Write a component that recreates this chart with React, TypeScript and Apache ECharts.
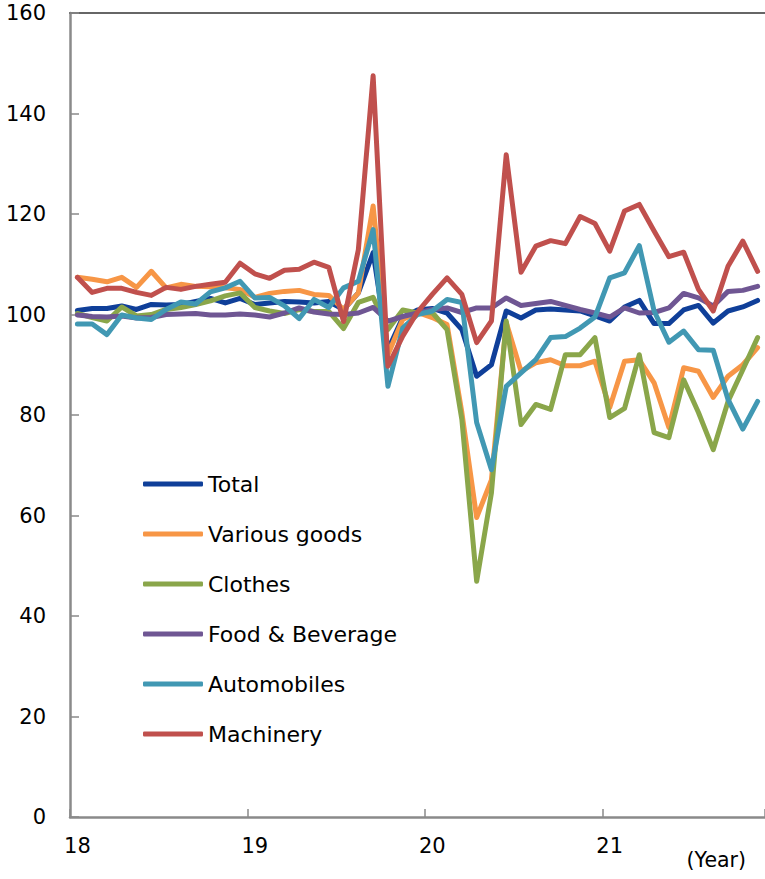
import React, { useEffect, useRef } from "react";
import * as echarts from "echarts";

const years = ["18", "19", "20", "21"];
const monthCount = 47; // Jan 2018 – Nov 2021

const seriesNames = ["Total", "Various goods", "Clothes", "Food & Beverage", "Automobiles", "Machinery"];
const seriesColors = ["#0f3f99", "#f79646", "#8aa64a", "#6f5693", "#4198b3", "#c0504d"];

const total = [100.8, 101.2, 101.2, 101.7, 101, 102, 101.9, 102, 102.6, 103.2, 102.3, 103.2,
  102, 102.3, 102.6, 102.5, 102.3, 102.6, 101, 104.3, 112.3, 93, 99.4, 100.9,
  101.2, 100.3, 97, 87.7, 90, 100.7, 99.3, 100.9, 101.1, 100.9, 100.7, 99.7,
  98.7, 101.5, 102.8, 98.2, 98.2, 100.9, 101.8, 98.3, 100.7, 101.5, 102.8];
const variousGoods = [107.4, 107, 106.5, 107.4, 105.4, 108.6, 105.3, 106, 105.6, 105.5, 105.3, 105,
  103.4, 104.2, 104.6, 104.8, 104, 103.8, 101, 104.3, 121.6, 92, 99, 100.4,
  99.4, 98, 80.5, 59.6, 67.1, 98.4, 88.7, 90.4, 91, 89.8, 89.8, 90.7,
  81.5, 90.7, 91, 86.4, 77.5, 89.4, 88.7, 83.5, 87.7, 90, 93.4];
const clothes = [100.2, 99.4, 98.7, 101.5, 99.7, 100, 101, 101.4, 102, 102.7, 103.7, 104.3,
  101.4, 100.7, 100.2, 101, 100.6, 100.6, 97.2, 102.4, 103.4, 97, 100.9, 100.3,
  100.4, 97, 79.1, 46.9, 64.5, 98.7, 78.1, 82.1, 81.1, 92, 92, 95.4,
  79.5, 81.3, 92, 76.5, 75.5, 87, 80.5, 73.1, 82.7, 89, 95.4];
const foodBeverage = [99.9, 99.6, 99.5, 99.7, 99.3, 99.4, 100, 100.1, 100.2, 99.9, 99.9, 100.1,
  99.9, 99.5, 100.3, 101.3, 100.5, 100.1, 100, 100.3, 101.4, 98.7, 99.6, 100.3,
  101, 101.3, 100.4, 101.3, 101.3, 103.3, 101.8, 102.2, 102.6, 101.8, 101, 100.3,
  99.5, 101.3, 100.3, 100.4, 101.3, 104.2, 103.3, 101.7, 104.6, 104.8, 105.6];
const automobiles = [98.1, 98.1, 96, 99.9, 99.3, 99, 101, 102.5, 102.1, 104.5, 105.3, 106.6,
  103.3, 103.4, 101.7, 99.2, 103, 101.4, 105.3, 106.6, 116.9, 85.7, 97.3, 100,
  100.7, 103, 102.4, 78.5, 69.1, 85.7, 88.4, 91, 95.4, 95.6, 97.3, 99.5,
  107.3, 108.3, 113.7, 100.7, 94.5, 96.7, 93, 92.9, 83.1, 77.2, 82.7];
const machinery = [107.4, 104.4, 105.2, 105.2, 104.4, 103.8, 105.4, 105, 105.6, 106, 106.4, 110.2,
  108.1, 107.2, 108.8, 109, 110.4, 109.4, 98.6, 112.9, 147.5, 89.7, 95.7, 100.5,
  104, 107.3, 104, 94.4, 98.7, 131.8, 108.4, 113.6, 114.7, 114.1, 119.5, 118.1,
  112.6, 120.6, 121.9, 116.6, 111.5, 112.4, 105, 100.7, 109.6, 114.6, 108.6];

const seriesData = [total, variousGoods, clothes, foodBeverage, automobiles, machinery];

const categories: string[] = [];
for (const y of years) {
  for (let m = 1; m <= 12; m++) {
    if (categories.length < monthCount) categories.push(`${y}/${m}`);
  }
}

const FONT = "'DejaVu Sans', Verdana, sans-serif";

export default function App() {
  const ref = useRef<HTMLDivElement>(null);
  useEffect(() => {
    if (!ref.current) return;
    const chart = echarts.init(ref.current, null, { renderer: "svg" });
    const isJan = (idx: number) => idx % 12 === 0;
    chart.setOption({
      animation: false,
      backgroundColor: "#ffffff",
      grid: { left: 70, right: 0, top: 13, bottom: 62 },
      legend: {
        orient: "vertical",
        left: 143,
        top: 473,
        padding: 0,
        itemWidth: 60,
        itemHeight: 5,
        itemGap: 28,
        icon: "roundRect",
        data: seriesNames,
        textStyle: { fontFamily: FONT, fontSize: 22, color: "#000", lineHeight: 22 },
      },
      xAxis: [
        {
          type: "category",
          data: categories,
          boundaryGap: true,
          axisLine: { lineStyle: { color: "#8a8a8a", width: 2.5 } },
          axisTick: { show: true, inside: true, length: 8, interval: isJan, lineStyle: { color: "#8a8a8a", width: 1.5 } },
          axisLabel: {
            interval: isJan,
            margin: 18,
            fontFamily: FONT,
            fontSize: 21,
            color: "#000",
            formatter: (v: string) => v.split("/")[0],
          },
          splitLine: { show: false },
        },
        {
          type: "category",
          data: categories,
          position: "top",
          axisLine: { lineStyle: { color: "#666", width: 2 } },
          axisTick: { show: false },
          axisLabel: { show: false },
          splitLine: { show: false },
        },
      ],
      yAxis: {
        type: "value",
        min: 0,
        max: 160,
        interval: 20,
        axisLine: { show: true, lineStyle: { color: "#8a8a8a", width: 2.5 } },
        axisTick: { show: true, inside: true, length: 9, lineStyle: { color: "#8a8a8a", width: 1.5 } },
        axisLabel: { margin: 24, fontFamily: FONT, fontSize: 21, color: "#000" },
        splitLine: { show: false },
      },
      graphic: [
        {
          type: "text",
          right: 19,
          top: 849,
          style: { text: "(Year)", fontFamily: FONT, fontSize: 20.5, fill: "#000" },
        },
      ],
      series: seriesNames.map((name, i) => ({
        name,
        type: "line",
        data: seriesData[i],
        symbol: "none",
        color: seriesColors[i],
        lineStyle: { width: 5, color: seriesColors[i], cap: "round", join: "round" },
        z: 2 + i,
      })),
    });
    return () => chart.dispose();
  }, []);
  return <div ref={ref} style={{ position: "absolute", left: 0, top: 0, width: 765, height: 879 }} />;
}
